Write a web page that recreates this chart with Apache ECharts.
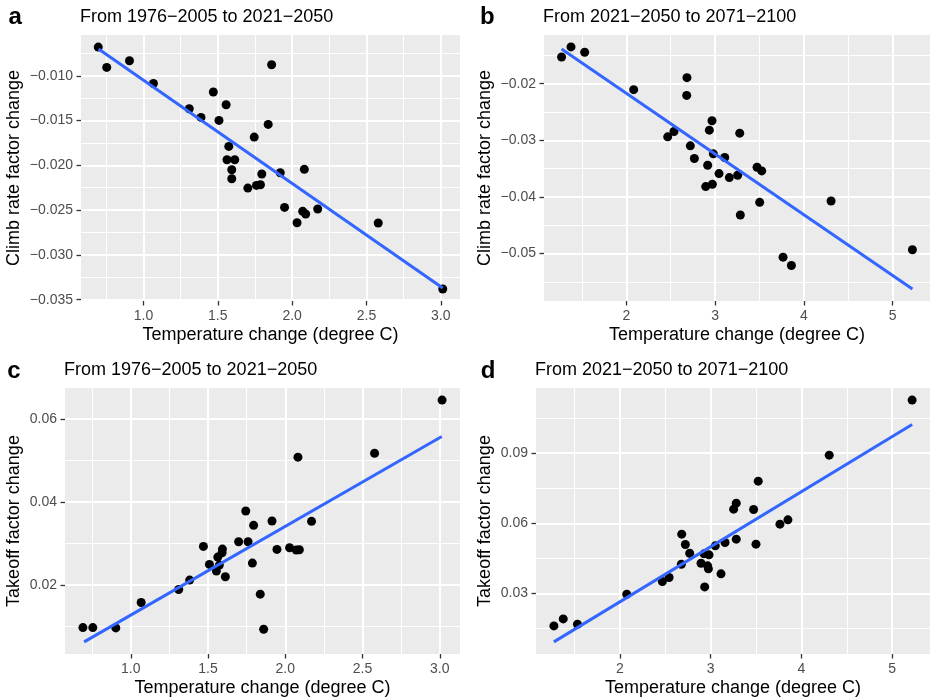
<!DOCTYPE html>
<html>
<head>
<meta charset="utf-8">
<script src="https://cdn.jsdelivr.net/npm/echarts@6/dist/echarts.min.js"></script>
<style>
html, body { margin: 0; padding: 0; background: #fff; }
#chart { width: 930px; height: 700px; }
</style>
</head>
<body>
<div id="chart"></div>
<script>
const FONT = '"Liberation Sans", Arial, Helvetica, sans-serif'

// panel a: climb rate, 1976-2005 -> 2021-2050
const tempA = [0.696, 0.753, 0.906, 1.067, 1.308, 1.387, 1.470, 1.508, 1.556, 1.574,
  1.562, 1.614, 1.594, 1.594, 1.702, 1.745, 1.760, 1.787, 1.796, 1.839,
  1.862, 1.920, 1.949, 2.033, 2.071, 2.091, 2.082, 2.172, 2.579, 3.013]
const climbA = [-0.00680, -0.00907, -0.00833, -0.01086, -0.01368, -0.01465, -0.01182, -0.01499, -0.01324, -0.01789,
  -0.01938, -0.01938, -0.02049, -0.02150, -0.02254, -0.01685, -0.02224, -0.02217, -0.02097, -0.01543,
  -0.00877, -0.02083, -0.02470, -0.02641, -0.02514, -0.02544, -0.02045, -0.02488, -0.02644, -0.03381]
const fitTempA = [0.698, 3.013]
const fitClimbA = [-0.00702, -0.03370]

// panel b: climb rate, 2021-2050 -> 2071-2100
const tempB = [1.271, 1.377, 1.531, 2.083, 2.683, 2.680, 2.965, 2.935, 2.537, 2.466,
  3.277, 2.721, 2.766, 2.980, 3.108, 2.916, 3.044, 3.160, 3.254, 2.894,
  2.969, 3.472, 3.525, 3.502, 3.284, 4.306, 3.765, 3.859, 5.222]
const climbB = [-0.01528, -0.01350, -0.01445, -0.02106, -0.01894, -0.02207, -0.02656, -0.02821, -0.02845, -0.02939,
  -0.02874, -0.03098, -0.03323, -0.03240, -0.03305, -0.03441, -0.03589, -0.03659, -0.03618, -0.03819,
  -0.03778, -0.03476, -0.03541, -0.04097, -0.04321, -0.04073, -0.05065, -0.05213, -0.04935]
const fitTempB = [1.271, 5.222]
const fitClimbB = [-0.01386, -0.05626]

// panel c: takeoff, 1976-2005 -> 2021-2050
const tempC = [0.690, 0.754, 0.903, 1.067, 1.310, 1.381, 1.470, 1.509, 1.554, 1.563,
  1.573, 1.593, 1.591, 1.612, 1.698, 1.744, 1.759, 1.787, 1.795, 1.838,
  1.860, 1.914, 1.946, 2.028, 2.071, 2.091, 2.082, 2.170, 2.578, 3.015]
const takeoffC = [0.00978, 0.00978, 0.00970, 0.01581, 0.01895, 0.02121, 0.02934, 0.02499, 0.02338, 0.02676,
  0.02483, 0.02869, 0.02781, 0.02201, 0.03046, 0.03787, 0.03046, 0.02531, 0.03441, 0.01783,
  0.00938, 0.03545, 0.02861, 0.02901, 0.02845, 0.02853, 0.05083, 0.03537, 0.05179, 0.06459]
const fitTempC = [0.698, 3.013]
const fitTakeoffC = [0.00632, 0.05581]

// panel d: takeoff, 2021-2050 -> 2071-2100
const tempD = [1.274, 1.377, 1.534, 2.077, 2.469, 2.543, 2.682, 2.722, 2.678, 2.770,
  2.895, 2.935, 2.928, 2.983, 2.968, 2.976, 3.052, 3.115, 3.159, 3.254,
  3.283, 3.283, 3.474, 3.500, 3.525, 3.764, 3.852, 4.307, 5.220]
const takeoffD = [0.01618, 0.01917, 0.01689, 0.02971, 0.03513, 0.03684, 0.05537, 0.05095, 0.04254, 0.04724,
  0.04297, 0.03285, 0.04696, 0.04653, 0.04183, 0.04055, 0.05038, 0.03841, 0.05180, 0.06606,
  0.06862, 0.05323, 0.06591, 0.05109, 0.07803, 0.05964, 0.06149, 0.08914, 0.11266]
const fitTempD = [1.274, 5.220]
const fitTakeoffD = [0.00934, 0.10225]

// axis breaks
const xTicksAC = [1.0, 1.5, 2.0, 2.5, 3.0]
const xMinorAC = [0.75, 1.25, 1.75, 2.25, 2.75]
const xTicksBD = [2, 3, 4, 5]
const xMinorBD = [1.5, 2.5, 3.5, 4.5]
const yTicksA = [-0.035, -0.030, -0.025, -0.020, -0.015, -0.010]
const yMinorA = [-0.0325, -0.0275, -0.0225, -0.0175, -0.0125, -0.0075]
const yTicksB = [-0.05, -0.04, -0.03, -0.02]
const yMinorB = [-0.055, -0.045, -0.035, -0.025, -0.015]
const yTicksC = [0.02, 0.04, 0.06]
const yMinorC = [0.01, 0.03, 0.05]
const yTicksD = [0.03, 0.06, 0.09]
const yMinorD = [0.015, 0.045, 0.075, 0.105]

const XNAME = 'Temperature change (degree C)'

const panels = [
  { letter: 'a', title: 'From 1976\u22122005 to 2021\u22122050', yName: 'Climb rate factor change',
    xs: tempA, ys: climbA, fx: fitTempA, fy: fitClimbA,
    xMajor: xTicksAC, xMinor: xMinorAC, yMajor: yTicksA, yMinor: yMinorA,
    xLim: [0.580, 3.129], yLim: [-0.03515, -0.00545], xDig: 1, yDig: 3,
    grid: { left: 81, top: 35, width: 379, height: 266 }, yGap: 58, letterX: 8.5, textY: 16.8 },
  { letter: 'b', title: 'From 2021\u22122050 to 2071\u22122100', yName: 'Climb rate factor change',
    xs: tempB, ys: climbB, fx: fitTempB, fy: fitClimbB,
    xMajor: xTicksBD, xMinor: xMinorBD, yMajor: yTicksB, yMinor: yMinorB,
    xLim: [1.073, 5.420], yLim: [-0.0584, -0.0114], xDig: 0, yDig: 2,
    grid: { left: 544, top: 35, width: 386, height: 266 }, yGap: 50, letterX: 480, textY: 16.8 },
  { letter: 'c', title: 'From 1976\u22122005 to 2021\u22122050', yName: 'Takeoff factor change',
    xs: tempC, ys: takeoffC, fx: fitTempC, fy: fitTakeoffC,
    xMajor: xTicksAC, xMinor: xMinorAC, yMajor: yTicksC, yMinor: yMinorC,
    xLim: [0.574, 3.131], yLim: [0.00341, 0.0675], xDig: 1, yDig: 2,
    grid: { left: 65, top: 388, width: 395, height: 266 }, yGap: 41.5, letterX: 7.3, textY: 370 },
  { letter: 'd', title: 'From 2021\u22122050 to 2071\u22122100', yName: 'Takeoff factor change',
    xs: tempD, ys: takeoffD, fx: fitTempD, fy: fitTakeoffD,
    xMajor: xTicksBD, xMinor: xMinorBD, yMajor: yTicksD, yMinor: yMinorD,
    xLim: [1.077, 5.417], yLim: [0.00417, 0.11783], xDig: 0, yDig: 2,
    grid: { left: 536, top: 388, width: 394, height: 266 }, yGap: 41.5, letterX: 480.7, textY: 370 }
]

const fmt = (v, d) => v.toFixed(d).replace('-', '\u2212')

// major axis: labels, ticks, thick white grid lines
function majorAxis(i, pos, lim, ticks, dig, name, gap) {
  return {
    type: 'value', gridIndex: i, position: pos, min: lim[0], max: lim[1],
    name: name, nameLocation: 'middle', nameGap: gap,
    nameTextStyle: { color: '#000', fontSize: 18, fontFamily: FONT },
    axisLine: { show: false },
    axisTick: { show: true, length: 4.5, customValues: ticks, lineStyle: { color: '#333', width: 1.3 } },
    axisLabel: { customValues: ticks, margin: 8, color: '#4D4D4D', fontSize: 14, fontFamily: FONT,
      formatter: v => fmt(v, dig) },
    splitLine: { show: true, lineStyle: { color: '#fff', width: 2 } },
    z: 2
  }
}
// minor axis: only thin grid lines
function minorAxis(i, pos, lim, ticks) {
  return {
    type: 'value', gridIndex: i, position: pos, min: lim[0], max: lim[1],
    axisLine: { show: false },
    axisTick: { show: false, customValues: ticks },
    axisLabel: { show: false },
    splitLine: { show: true, lineStyle: { color: '#fff', width: 1 } },
    z: 1
  }
}

const grid = [], xAxis = [], yAxis = [], series = [], graphic = []
panels.forEach((p, i) => {
  grid.push({ ...p.grid, show: true, backgroundColor: '#EBEBEB', borderWidth: 0,
    containLabel: false, outerBoundsMode: 'none' })
  xAxis.push(minorAxis(i, 'top', p.xLim, p.xMinor))
  xAxis.push(majorAxis(i, 'bottom', p.xLim, p.xMajor, p.xDig, XNAME, 25))
  yAxis.push(minorAxis(i, 'right', p.yLim, p.yMinor))
  yAxis.push(majorAxis(i, 'left', p.yLim, p.yMajor, p.yDig, p.yName, p.yGap))
  const ax = i * 2 + 1
  series.push({
    type: 'scatter', xAxisIndex: ax, yAxisIndex: ax, symbolSize: 9, z: 3,
    itemStyle: { color: '#000', opacity: 1 },
    data: p.xs.map((x, k) => [x, p.ys[k]])
  })
  series.push({
    type: 'line', xAxisIndex: ax, yAxisIndex: ax, symbol: 'none', z: 4,
    lineStyle: { color: '#3366FF', width: 3 },
    data: p.fx.map((x, k) => [x, p.fy[k]])
  })
  graphic.push({ type: 'text', x: p.letterX, y: p.textY + 1,
    style: { text: p.letter, fill: '#000', font: 'bold 24px ' + FONT, verticalAlign: 'middle' } })
  graphic.push({ type: 'text', x: p.grid.left - 1, y: p.textY,
    style: { text: p.title, fill: '#000', font: '18px ' + FONT, verticalAlign: 'middle' } })
})

const chart = echarts.init(document.getElementById('chart'), null, { renderer: 'canvas' })
chart.setOption({
  animation: false,
  backgroundColor: '#fff',
  grid, xAxis, yAxis, series, graphic
})
window.addEventListener('resize', () => chart.resize())
</script>
</body>
</html>
